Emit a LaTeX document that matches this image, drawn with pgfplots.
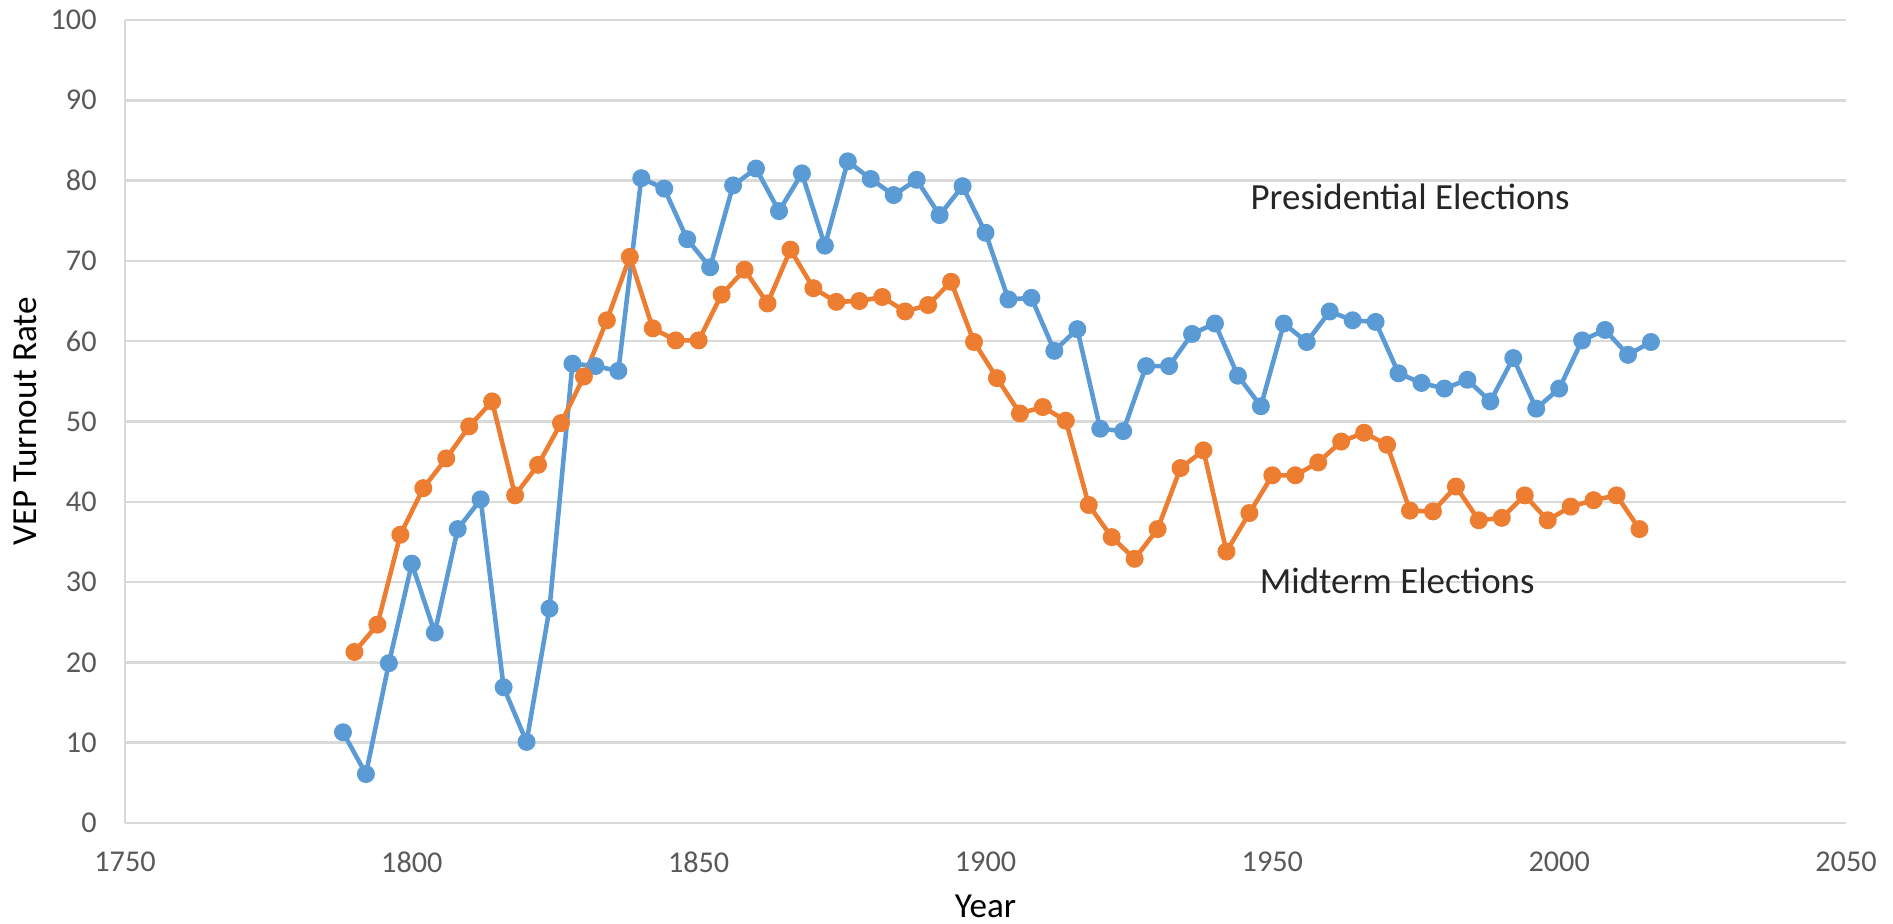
\documentclass[border=0pt]{standalone}
\usepackage{pgfplots}
\pgfplotsset{compat=1.18}
\usepackage{fontspec}
\setmainfont{Carlito}
\definecolor{presblue}{HTML}{5B9BD5}
\definecolor{midorange}{HTML}{ED7D31}
\definecolor{ticktext}{HTML}{595959}
\definecolor{gridgray}{HTML}{D9D9D9}

\pgfplotstableread{
year turnout
1788 11.3
1792 6.1
1796 19.9
1800 32.3
1804 23.7
1808 36.6
1812 40.3
1816 16.9
1820 10.1
1824 26.7
1828 57.2
1832 56.9
1836 56.3
1840 80.3
1844 79.0
1848 72.7
1852 69.2
1856 79.4
1860 81.5
1864 76.2
1868 80.9
1872 71.9
1876 82.4
1880 80.2
1884 78.2
1888 80.1
1892 75.7
1896 79.3
1900 73.5
1904 65.2
1908 65.4
1912 58.8
1916 61.5
1920 49.1
1924 48.8
1928 56.9
1932 56.9
1936 60.9
1940 62.2
1944 55.7
1948 51.9
1952 62.2
1956 59.9
1960 63.7
1964 62.6
1968 62.4
1972 56.0
1976 54.8
1980 54.1
1984 55.2
1988 52.5
1992 57.9
1996 51.6
2000 54.1
2004 60.1
2008 61.4
2012 58.3
2016 59.9
}\presidential

\pgfplotstableread{
year turnout
1790 21.3
1794 24.7
1798 35.9
1802 41.7
1806 45.4
1810 49.4
1814 52.5
1818 40.8
1822 44.6
1826 49.8
1830 55.6
1834 62.6
1838 70.5
1842 61.6
1846 60.1
1850 60.1
1854 65.8
1858 68.9
1862 64.7
1866 71.4
1870 66.6
1874 64.9
1878 65.0
1882 65.5
1886 63.7
1890 64.5
1894 67.4
1898 59.9
1902 55.4
1906 51.0
1910 51.8
1914 50.1
1918 39.6
1922 35.6
1926 32.9
1930 36.6
1934 44.2
1938 46.4
1942 33.8
1946 38.6
1950 43.3
1954 43.3
1958 44.9
1962 47.5
1966 48.6
1970 47.1
1974 38.9
1978 38.8
1982 41.9
1986 37.7
1990 38.0
1994 40.8
1998 37.7
2002 39.4
2006 40.2
2010 40.8
2014 36.6
}\midterm

\begin{document}
\begin{tikzpicture}
\begin{axis}[
    scale only axis,
    width=17.21cm, height=8.03cm,
    xmin=1750, xmax=2050, ymin=0, ymax=100,
    xtick distance=50, ytick distance=10,
    /pgf/number format/1000 sep={},
    /pgf/number format/assume math mode=true,
    axis x line=bottom, axis y line=left,
    axis line style={-, draw=gridgray, line width=0.7pt},
    major tick length=0pt,
    ymajorgrids,
    grid style={gridgray, line width=0.7pt},
    tick label style={font=\fontsize{8.6}{10}\selectfont, text=ticktext},
    yticklabel style={xshift=-0.16cm},
    xticklabel style={yshift=-0.16cm},
    xlabel={Year}, ylabel={VEP Turnout Rate},
    label style={font=\fontsize{8.5}{10}\selectfont, text=ticktext, inner sep=0pt},
    every axis x label/.style={at={(axis description cs:0.5,-0.104)}, anchor=center},
    every axis y label/.style={at={(axis description cs:-0.0581,0.5)}, anchor=center, rotate=90},
    clip=false,
]
\addplot[presblue, line width=1.3pt, mark=*, mark size=1.9pt, mark options={fill=presblue, draw=presblue}] table[x=year, y=turnout] {\presidential};
\addplot[midorange, line width=1.3pt, mark=*, mark size=1.9pt, mark options={fill=midorange, draw=midorange}] table[x=year, y=turnout] {\midterm};
\node[anchor=west, inner sep=0pt, font=\fontsize{10.5}{12}\selectfont, text=black!85] at (axis cs:1946.1,78) {Presidential Elections};
\node[anchor=west, inner sep=0pt, font=\fontsize{10.5}{12}\selectfont, text=black!85] at (axis cs:1947.7,30.1) {Midterm Elections};
\end{axis}
\pgfresetboundingbox
\useasboundingbox ([shift={(-1.25cm,-1.01cm)}]current axis.south west) rectangle ([shift={(0.47cm,0.20cm)}]current axis.north east);
\end{tikzpicture}
\end{document}
